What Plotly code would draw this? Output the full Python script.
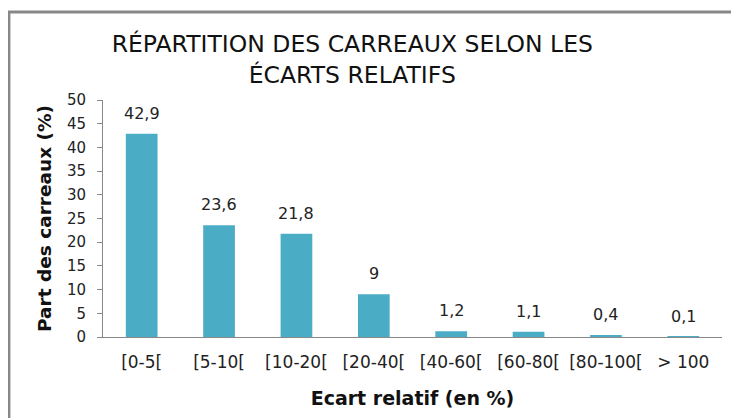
import plotly.graph_objects as go

# 데이터
categories = ['[0-5[', '[5-10[', '[10-20[', '[20-40[', '[40-60[', '[60-80[', '[80-100[', '> 100']
values = [42.9, 23.6, 21.8, 9, 1.2, 1.1, 0.4, 0.1]
y_ticks = [0, 5, 10, 15, 20, 25, 30, 35, 40, 45, 50]

labels = [str(v).replace('.', ',') for v in values]

fig = go.Figure()
fig.add_trace(go.Bar(
    x=categories,
    y=values,
    marker=dict(color='#4BACC6', line=dict(width=0)),
    hoverinfo='x+y'
))

# 막대 위 값 라벨
for cat, val, lab in zip(categories, values, labels):
    fig.add_annotation(x=cat, y=val, text=lab, showarrow=False,
                       yanchor='bottom', yshift=9,
                       font=dict(family='DejaVu Sans', size=16, color='#222'))

# 바깥 테두리
fig.add_shape(type='rect', xref='paper', yref='paper',
              x0=-0.152, x1=1.2, y0=-0.6, y1=1.371,
              line=dict(color='#888', width=3), fillcolor='rgba(0,0,0,0)')

fig.update_layout(
    title=dict(text='RÉPARTITION DES CARREAUX SELON LES<br>ÉCARTS RELATIFS',
               x=0.471, xanchor='center', y=0.892, yanchor='top',
               font=dict(family='DejaVu Sans', size=23.5, color='#111')),
    width=731, height=410,
    margin=dict(l=95, r=17, t=92, b=81),
    paper_bgcolor='white', plot_bgcolor='white',
    bargap=0.59,
    showlegend=False,
    font=dict(family='DejaVu Sans', color='#222'),
    xaxis=dict(
        title=dict(text='<b>Ecart relatif (en %)</b>', font=dict(size=19, color='#111'), standoff=20),
        automargin=False,
        showline=True, linecolor='#888', linewidth=1,
        ticks='', ticklabelstandoff=10,
        tickfont=dict(size=17, color='#222'),
        showgrid=False
    ),
    yaxis=dict(
        title=dict(text='<b>Part des carreaux (%)</b>', font=dict(size=18.5, color='#111'), standoff=10),
        automargin=False,
        range=[0, 50], tickvals=y_ticks,
        showline=True, linecolor='#888', linewidth=1,
        ticks='outside', ticklen=5, tickcolor='#888',
        ticklabelstandoff=8,
        tickfont=dict(size=15, color='#222'),
        showgrid=False, zeroline=False
    )
)

fig.write_html("out.html")
